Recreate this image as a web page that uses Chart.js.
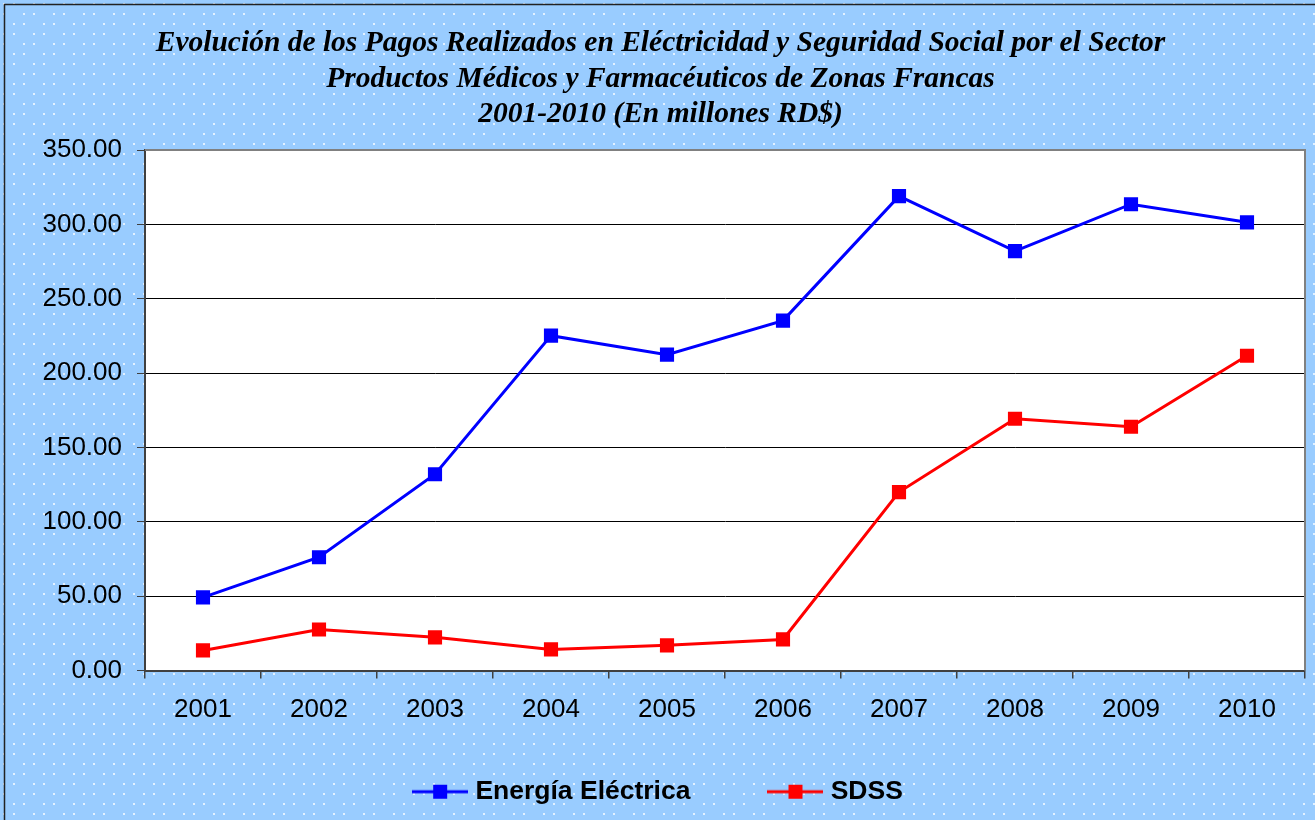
<!DOCTYPE html>
<html>
<head>
<meta charset="utf-8">
<script src="https://cdn.jsdelivr.net/npm/chart.js@4/dist/chart.umd.min.js"></script>
<style>
  html, body { margin: 0; padding: 0; background: #99CCFF; }
  canvas { display: block; }
</style>
</head>
<body>
<canvas id="c" width="1315" height="820"></canvas>
<script>
const titleLines = [
  "Evolución de los Pagos Realizados en Eléctricidad y Seguridad Social por el Sector",
  "Productos Médicos y Farmacéuticos de Zonas Francas",
  "2001-2010 (En millones RD$)"
];
const years = ["2001","2002","2003","2004","2005","2006","2007","2008","2009","2010"];
const energiaElectrica = [49.2, 76.2, 132.0, 225.2, 212.4, 235.3, 319.0, 282.0, 313.6, 301.4];
const sdss = [13.5, 27.6, 22.3, 14.2, 16.9, 20.9, 120.0, 169.3, 163.9, 211.7];
const seriesNames = ["Energía Eléctrica", "SDSS"];
const seriesColors = ["#0000FF", "#FF0000"];

// background dotted pattern
function makePattern(ctx) {
  const t = document.createElement('canvas');
  t.width = 60; t.height = 60;
  const g = t.getContext('2d');
  g.fillStyle = '#99CCFF';
  g.fillRect(0, 0, 60, 60);
  g.fillStyle = 'rgba(235,245,255,0.9)';
  const mask = [
    [1,1,0,1,1,0],
    [1,0,1,1,0,1],
    [0,1,1,0,1,1],
    [1,1,0,1,1,0],
    [1,0,1,1,0,1],
    [0,1,1,0,1,1]
  ];
  for (let j = 0; j < 6; j++) {
    for (let i = 0; i < 6; i++) {
      if (mask[j][i]) g.fillRect(3 + i * 10, 3 + j * 10, 2, 2);
    }
  }
  return ctx.createPattern(t, 'repeat');
}

function legendImage(color) {
  const c = document.createElement('canvas');
  c.width = 56; c.height = 16;
  const g = c.getContext('2d');
  g.strokeStyle = color;
  g.lineWidth = 3;
  g.beginPath(); g.moveTo(0, 8); g.lineTo(56, 8); g.stroke();
  g.fillStyle = color;
  g.fillRect(21, 1, 14, 14);
  return c;
}

const bgPlugin = {
  id: 'bg',
  beforeDraw(chart) {
    const ctx = chart.ctx;
    ctx.save();
    ctx.fillStyle = makePattern(ctx);
    ctx.fillRect(0, 0, chart.width, chart.height);
    const a = chart.chartArea;
    ctx.fillStyle = '#FFFFFF';
    ctx.fillRect(a.left, a.top, a.right - a.left, a.bottom - a.top);
    ctx.strokeStyle = '#222222';
    ctx.lineWidth = 1.5;
    ctx.strokeRect(4.5, 4.5, chart.width + 20, chart.height + 20);
    ctx.restore();
  },
  beforeDatasetsDraw(chart) {
    const ctx = chart.ctx;
    const a = chart.chartArea;
    ctx.save();
    ctx.strokeStyle = '#808080';
    ctx.lineWidth = 2;
    ctx.beginPath();
    ctx.moveTo(a.left, a.top);
    ctx.lineTo(a.right, a.top);
    ctx.lineTo(a.right, a.bottom);
    ctx.stroke();
    ctx.restore();
  }
};

Chart.defaults.font.family = "'Liberation Sans', Arial, sans-serif";
Chart.defaults.color = '#000000';

new Chart(document.getElementById('c'), {
  type: 'line',
  data: {
    labels: years,
    datasets: [
      {
        label: seriesNames[0],
        data: energiaElectrica,
        borderColor: seriesColors[0],
        backgroundColor: seriesColors[0],
        borderWidth: 3,
        pointStyle: 'rect',
        pointRadius: 10,
        pointBorderWidth: 0,
        tension: 0,
        fill: false
      },
      {
        label: seriesNames[1],
        data: sdss,
        borderColor: seriesColors[1],
        backgroundColor: seriesColors[1],
        borderWidth: 3,
        pointStyle: 'rect',
        pointRadius: 10,
        pointBorderWidth: 0,
        tension: 0,
        fill: false
      }
    ]
  },
  options: {
    responsive: false,
    animation: false,
    devicePixelRatio: 1,
    layout: { padding: { left: 16, right: 10, top: 0, bottom: 5 } },
    plugins: {
      title: {
        display: true,
        text: titleLines,
        color: '#000000',
        font: { family: "'Liberation Serif', 'Times New Roman', serif", size: 29.5, style: 'italic', weight: 'bold', lineHeight: 1.21 },
        padding: { top: 25.5, bottom: 17.5 }
      },
      legend: {
        display: true,
        position: 'bottom',
        labels: {
          usePointStyle: true,
          pointStyleWidth: 44,
          padding: 83,
          color: '#000000',
          font: { size: 26.5, weight: 'bold' },
          generateLabels(chart) {
            return chart.data.datasets.map((ds, i) => ({
              text: ds.label,
              pointStyle: legendImage(ds.borderColor),
              fillStyle: ds.borderColor,
              strokeStyle: ds.borderColor,
              lineWidth: 0,
              hidden: false,
              datasetIndex: i,
              fontColor: '#000000'
            }));
          }
        }
      },
      tooltip: { enabled: false }
    },
    scales: {
      x: {
        type: 'category',
        offset: true,
        grid: { offset: true, drawOnChartArea: false, drawTicks: true, tickLength: 8, color: '#404040', lineWidth: 1.5 },
        border: { color: '#404040', width: 2 },
        ticks: { font: { size: 26 }, color: '#000000', padding: 16, maxRotation: 0, autoSkip: false },
        afterFit(scale) {
          scale.height = 25;
          // let the tick labels draw below the compact axis box
          scale._computeLabelArea = function () { return undefined; };
        }
      },
      y: {
        min: 0,
        max: 350,
        grid: { color: '#000000', lineWidth: 1, tickColor: '#404040', tickLength: 8 },
        border: { color: '#404040', width: 2 },
        ticks: {
          stepSize: 50,
          font: { size: 26 },
          color: '#000000',
          padding: 15,
          callback: (v) => Number(v).toFixed(2)
        },
        afterFit(scale) {
          scale.width = 129;
          scale._computeLabelArea = function () { return undefined; };
        }
      }
    }
  },
  plugins: [bgPlugin]
});
</script>
</body>
</html>
